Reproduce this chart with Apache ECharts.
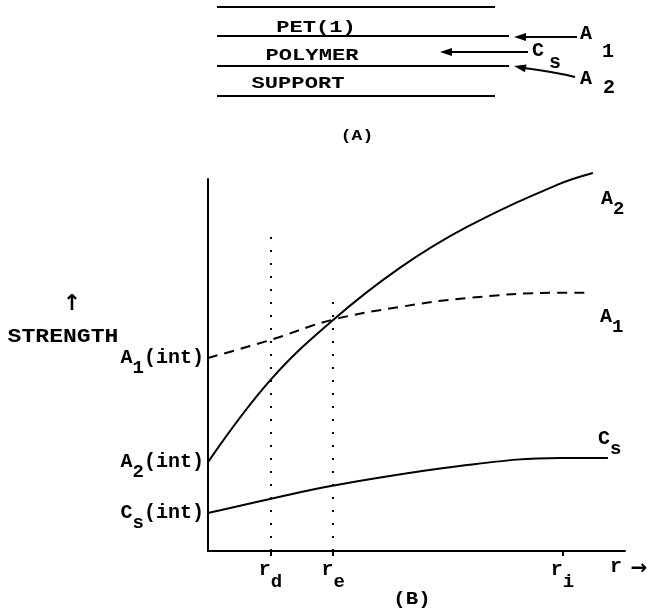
<!DOCTYPE html>
<html><head><meta charset="utf-8">
<script src="https://cdn.jsdelivr.net/npm/echarts@6/dist/echarts.min.js"></script>
<style>html,body{margin:0;padding:0;background:#fff}#c{width:650px;height:611px}</style>
</head><body><div id="c"></div>
<script>
// ---- data (schematic; r in % of axis, strength in % of axis) ----
const a2R = [0, 15, 30, 46, 62.1, 83.7, 92.3];
const a2S = [23.9, 46.0, 62.1, 76.1, 87.1, 98.4, 101.6];
const a1R = [0, 14.9, 29.7, 46, 62.1, 83.7, 91.6];
const a1S = [51.9, 56.7, 62.1, 65.6, 68.0, 69.4, 69.4];
const csR = [0, 14.9, 30.5, 62.1, 84.4, 95.9];
const csS = [10.2, 14.0, 17.7, 23.1, 25.0, 25.0];
const rMarks = [15, 30, 85];              // r_d, r_e, r_i
const rMarkSubs = ['d', 'e', 'i'];
const rMarkTops = [86, 68.5, 103];        // top of dotted guide lines
const intNames = [['A', '1'], ['A', '2'], ['C', 's']];
const intValues = [a1S[0], a2S[0], csS[0]];

const FONT = 'Liberation Mono';
const zip = (xs, ys) => xs.map((x, i) => [x, ys[i]]);
const mk = (pad) => ({
  m: {fontFamily: FONT, fontWeight: 'bold', fontSize: 20, color: '#000'},
  s: {fontFamily: FONT, fontWeight: 'bold', fontSize: 19, color: '#000', padding: [pad, 0, 0, 0]}
});
const richSub = mk(20);
const richX = mk(26);

const chart = echarts.init(document.getElementById('c'), null, {renderer: 'canvas'});
const lineBase = {type: 'line', symbol: 'none', smooth: 0.4, clip: false, silent: true,
  lineStyle: {color: '#000', width: 2}};

const txt = (x, y, text, size, extra) => Object.assign({type: 'text', x: x, y: y,
  style: {text: text, fontFamily: FONT, fontWeight: 'bold', fontSize: size, fill: '#000',
    align: 'center', verticalAlign: 'middle'}}, extra || {});
const ln = (x1, y1, x2, y2, w) => ({type: 'line', shape: {x1, y1, x2, y2}, style: {stroke: '#000', lineWidth: w || 2}});
const head = (x, y, dx, dy) => {
  const L = Math.hypot(dx, dy), ux = dx / L, uy = dy / L, px = -uy, py = ux;
  return {type: 'polygon', shape: {points: [[x, y], [x - ux * 12 + px * 4, y - uy * 12 + py * 4], [x - ux * 12 - px * 4, y - uy * 12 - py * 4]]}, style: {fill: '#000'}};
};

chart.setOption({
  animation: false,
  backgroundColor: '#fff',
  grid: {left: 208, right: 25, top: 179, bottom: 60},
  xAxis: {
    type: 'value', min: 0, max: 100,
    axisLine: {show: true, lineStyle: {color: '#000', width: 2}},
    splitLine: {show: false},
    axisTick: {show: true, customValues: rMarks, length: 5, lineStyle: {color: '#000', width: 2}},
    axisLabel: {customValues: rMarks, margin: -4,
      formatter: v => '{m|r}{s|' + rMarkSubs[rMarks.indexOf(v)] + '}', rich: richX}
  },
  yAxis: {
    type: 'value', min: 0, max: 100,
    axisLine: {show: true, lineStyle: {color: '#000', width: 2}},
    splitLine: {show: false},
    axisTick: {show: false},
    axisLabel: {customValues: intValues, margin: 4,
      formatter: v => { const n = intNames[intValues.indexOf(v)]; return '{m|' + n[0] + '}{s|' + n[1] + '}{m|(int)}'; },
      rich: richSub}
  },
  series: [
    Object.assign({}, lineBase, {name: 'A2', data: zip(a2R, a2S),
      endLabel: {show: true, formatter: '{m|A}{s|2}', rich: richSub, offset: [0, 26]}}),
    Object.assign({}, lineBase, {name: 'A1', data: zip(a1R, a1S),
      lineStyle: {color: '#000', width: 2, type: [10, 7]},
      endLabel: {show: true, formatter: '{m|A}{s|1}', rich: richSub, offset: [2, 24]}}),
    Object.assign({}, lineBase, {name: 'Cs', data: zip(csR, csS),
      endLabel: {show: true, formatter: '{m|C}{s|s}', rich: richSub, offset: [-18, -19]},
      markLine: {silent: true, symbol: 'none', label: {show: false},
        lineStyle: {color: '#000', width: 2, type: [2, 11]},
        data: rMarks.map((r, i) => [{coord: [r, 0]}, {coord: [r, rMarkTops[i]]}])}})
  ],
  graphic: [
    // panel (A): layer stack
    ln(217, 7, 495, 7), ln(217, 36, 509, 36), ln(217, 66, 509, 66), ln(217, 96, 495, 96),
    txt(316, 28, 'PET(1)', 17, {scaleX: 1.3}),
    txt(312, 56, 'POLYMER', 17, {scaleX: 1.3}),
    txt(298, 84, 'SUPPORT', 17, {scaleX: 1.3}),
    ln(577, 37, 524, 37), head(514, 37, -1, 0),
    ln(528, 52, 450, 52), head(440, 52, -1, 0),
    {type: 'bezierCurve', shape: {x1: 575, y1: 77, x2: 524, y2: 68, cpx1: 555, cpy1: 72}, style: {stroke: '#000', lineWidth: 2, fill: null}},
    head(514, 66, -1, -0.2),
    txt(586, 34, 'A', 20), txt(608, 52, '1', 20),
    txt(538, 51, 'C', 20), txt(555, 63, 's', 20),
    txt(586, 79, 'A', 20), txt(609, 88, '2', 20),
    txt(357, 136, '(A)', 15, {scaleX: 1.2}),
    // panel (B) extras
    txt(72, 304, '\u2191', 22, {style: {text: '\u2191', fontFamily: 'DejaVu Sans', fontWeight: 'bold', fontSize: 22, fill: '#000', align: 'center', verticalAlign: 'middle'}}),
    txt(63, 337, 'STRENGTH', 21, {scaleX: 1.1}),
    txt(616, 567, 'r', 20),
    txt(639, 569, '\u2192', 20, {style: {text: '\u2192', fontFamily: 'DejaVu Sans', fontWeight: 'bold', fontSize: 20, fill: '#000', align: 'center', verticalAlign: 'middle'}}),
    txt(412, 599, '(B)', 18, {scaleX: 1.15})
  ]
});
</script>
</body></html>
